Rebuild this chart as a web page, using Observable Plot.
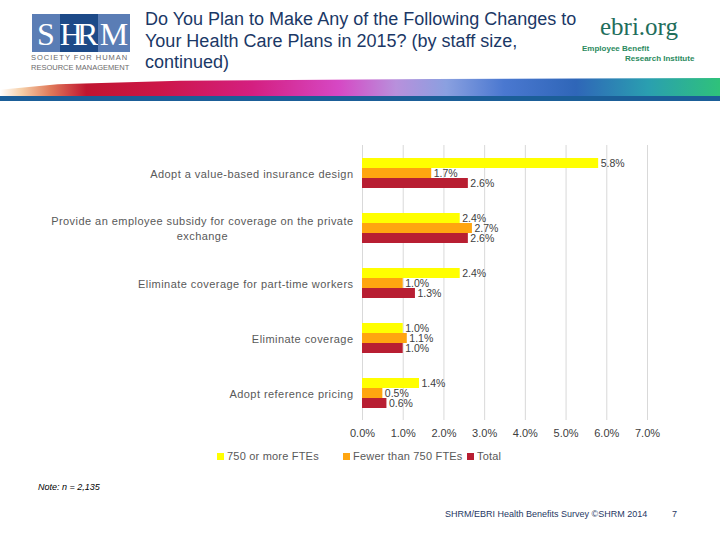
<!DOCTYPE html>
<html>
<head>
<meta charset="utf-8">
<script src="https://cdn.jsdelivr.net/npm/d3@7"></script>
<script src="https://cdn.jsdelivr.net/npm/@observablehq/plot@0.6"></script>
<style>
  html, body { margin: 0; padding: 0; background: #fff; }
  #page { position: relative; width: 720px; height: 540px; overflow: hidden; font-family: "Liberation Sans", Arial, sans-serif; background: #fff; }
  .abs { position: absolute; }
  #title { left: 145px; top: 9px; font-size: 18px; line-height: 21.5px; color: #1b3866; white-space: nowrap; }
  #logo { left: 32px; top: 14px; width: 98px; height: 38px; display: flex; }
  #logo div { height: 100%; color: #fff; font-family: "Liberation Serif", "DejaVu Serif", serif; font-size: 32px; line-height: 40px; text-align: center; white-space: nowrap; }
  #logosub { left: 31px; top: 53px; font-size: 7.5px; line-height: 9.5px; color: #6b6b6b; white-space: nowrap; }
  #ebri { left: 600px; top: 13px; font-family: "Liberation Serif", "DejaVu Serif", serif; font-size: 25px; color: #1f6e5c; }
  #ebri1 { left: 582px; top: 44px; font-size: 8px; color: #2b8a60; font-weight: bold; }
  #ebri2 { left: 625px; top: 54px; font-size: 8px; color: #2b8a60; font-weight: bold; }
  #swoosh { left: 0; top: 78px; width: 720px; height: 18px;
    background: linear-gradient(90deg, #fff 0%, #f6cfa8 3%, #e07a5a 7%, #c01530 12%, #cc1648 22%, #d41f80 35%, #d648c4 47%, #b890dc 55%, #8aa0e0 62%, #4a78d0 70%, #2f66b8 80%, #2a9fb0 90%, #2fc27a 100%);
    clip-path: polygon(0 100%, 0 65%, 8% 35%, 25% 15%, 60% 5%, 100% 0, 100% 100%); }
  #bluebar { left: 0; top: 96px; width: 720px; height: 5px; background: #1b5e98; }
  #chart { left: 0; top: 130px; }
  #legend { left: 217px; top: 450px; display: flex; align-items: center; font-size: 11px; color: #595959; white-space: nowrap; letter-spacing: 0.2px; }
  #legend .sw { display: inline-block; width: 7px; height: 7px; margin-right: 3px; }
  #legend .item { display: flex; align-items: center; }
  #legend .item:nth-child(1) { width: 126px; }
  #legend .item:nth-child(2) { width: 124px; }
  #note { left: 38px; top: 482px; font-size: 9px; font-style: italic; color: #000; }
  #footer { left: 445px; top: 509px; font-size: 9px; color: #1f3864; }
  #pnum { left: 672px; top: 509px; font-size: 9px; color: #1f3864; }
</style>
</head>
<body>
<div id="page">
  <div id="logo" class="abs">
    <div style="width:28px;background:#5a7db5;">S</div>
    <div style="width:38px;background:#1d4a88;letter-spacing:-6px;text-indent:-6px;">HR</div>
    <div style="width:32px;background:#5a7db5;">M</div>
  </div>
  <div id="logosub" class="abs"><span style="letter-spacing:1px">SOCIETY FOR HUMAN</span><br>RESOURCE MANAGEMENT</div>
  <div id="title" class="abs">Do You Plan to Make Any of the Following Changes to<br>Your Health Care Plans in 2015? (by staff size,<br>continued)</div>
  <div id="ebri" class="abs">ebri.org</div>
  <div id="ebri1" class="abs">Employee Benefit</div>
  <div id="ebri2" class="abs">Research Institute</div>
  <div id="swoosh" class="abs"></div>
  <div id="bluebar" class="abs"></div>
  <div id="chart" class="abs"></div>
  <div id="legend" class="abs"></div>
  <div id="note" class="abs">Note: n = 2,135</div>
  <div id="footer" class="abs">SHRM/EBRI Health Benefits Survey ©SHRM 2014</div>
  <div id="pnum" class="abs">7</div>
</div>
<script>
const categories = [
  "Adopt a value-based insurance design",
  "Provide an employee subsidy for coverage on the private exchange",
  "Eliminate coverage for part-time workers",
  "Eliminate coverage",
  "Adopt reference pricing"
];
const categoryLabels = [
  "Adopt a value-based insurance design",
  "Provide an employee subsidy for coverage on the private\nexchange",
  "Eliminate coverage for part-time workers",
  "Eliminate coverage",
  "Adopt reference pricing"
];
const series = ["750 or more FTEs", "Fewer than 750 FTEs", "Total"];
const large = [5.8, 2.4, 2.4, 1.0, 1.4];
const small = [1.7, 2.7, 1.0, 1.1, 0.5];
const total = [2.6, 2.6, 1.3, 1.0, 0.6];
const xTicks = [0, 1, 2, 3, 4, 5, 6, 7];
const colors = ["#FFFF00", "#FFA510", "#B81E32"];

const seriesValues = [large, small, total];
const rows = [];
categories.forEach((c, i) => {
  series.forEach((s, j) => rows.push({category: c, series: s, value: seriesValues[j][i]}));
});

const LS = 0.45;
const ctx = document.createElement("canvas").getContext("2d");
ctx.font = '11px "Liberation Sans", Arial, sans-serif';
const labelWidth = (t) => Math.max(...t.split("\n").map(l => ctx.measureText(l).width + LS * l.length));

const labelMarks = categories.map((c, i) =>
  Plot.text([c], {
    fy: d => d,
    frameAnchor: "left",
    text: () => categoryLabels[i],
    textAnchor: "middle",
    lineHeight: 1.35,
    dx: -(9 + labelWidth(categoryLabels[i]) / 2),
    fill: "#595959",
    fontSize: 11
  })
);

const chart = Plot.plot({
  width: 720,
  height: 320,
  marginLeft: 362,
  marginRight: 73,
  marginTop: 15,
  marginBottom: 30,
  style: {fontFamily: '"Liberation Sans", Arial, sans-serif', fontSize: "11px", color: "#404040", background: "transparent"},
  x: {domain: [0, 7], ticks: xTicks, tickFormat: d => d.toFixed(1) + "%", tickSize: 0, tickPadding: 9, label: null},
  fy: {domain: categories, padding: 0, axis: null, label: null},
  y: {domain: series, paddingInner: 0, paddingOuter: 1.17, axis: null},
  color: {domain: series, range: colors},
  marks: [
    Plot.gridX(xTicks, {stroke: "#d9d9d9", strokeOpacity: 1}),
    Plot.barX(rows, {x: "value", y: "series", fy: "category", fill: "series"}),
    Plot.text(rows, {x: "value", y: "series", fy: "category", text: d => d.value.toFixed(1) + "%", textAnchor: "start", dx: 2, fill: "#404040", fontSize: 10.5}),
    ...labelMarks
  ]
});
// widen the category label letter spacing to match the reference rendering
const labelSet = new Set(categoryLabels.map(l => l.replace("\n", "")));
d3.select(chart).selectAll("text").filter(function() {
  return labelSet.has(this.textContent);
}).style("letter-spacing", LS + "px");
document.getElementById("chart").appendChild(chart);

const legend = document.getElementById("legend");
series.forEach((s, j) => {
  const item = document.createElement("div");
  item.className = "item";
  const sw = document.createElement("span");
  sw.className = "sw";
  sw.style.background = colors[j];
  item.appendChild(sw);
  item.appendChild(document.createTextNode(s));
  legend.appendChild(item);
});
</script>
</body>
</html>
